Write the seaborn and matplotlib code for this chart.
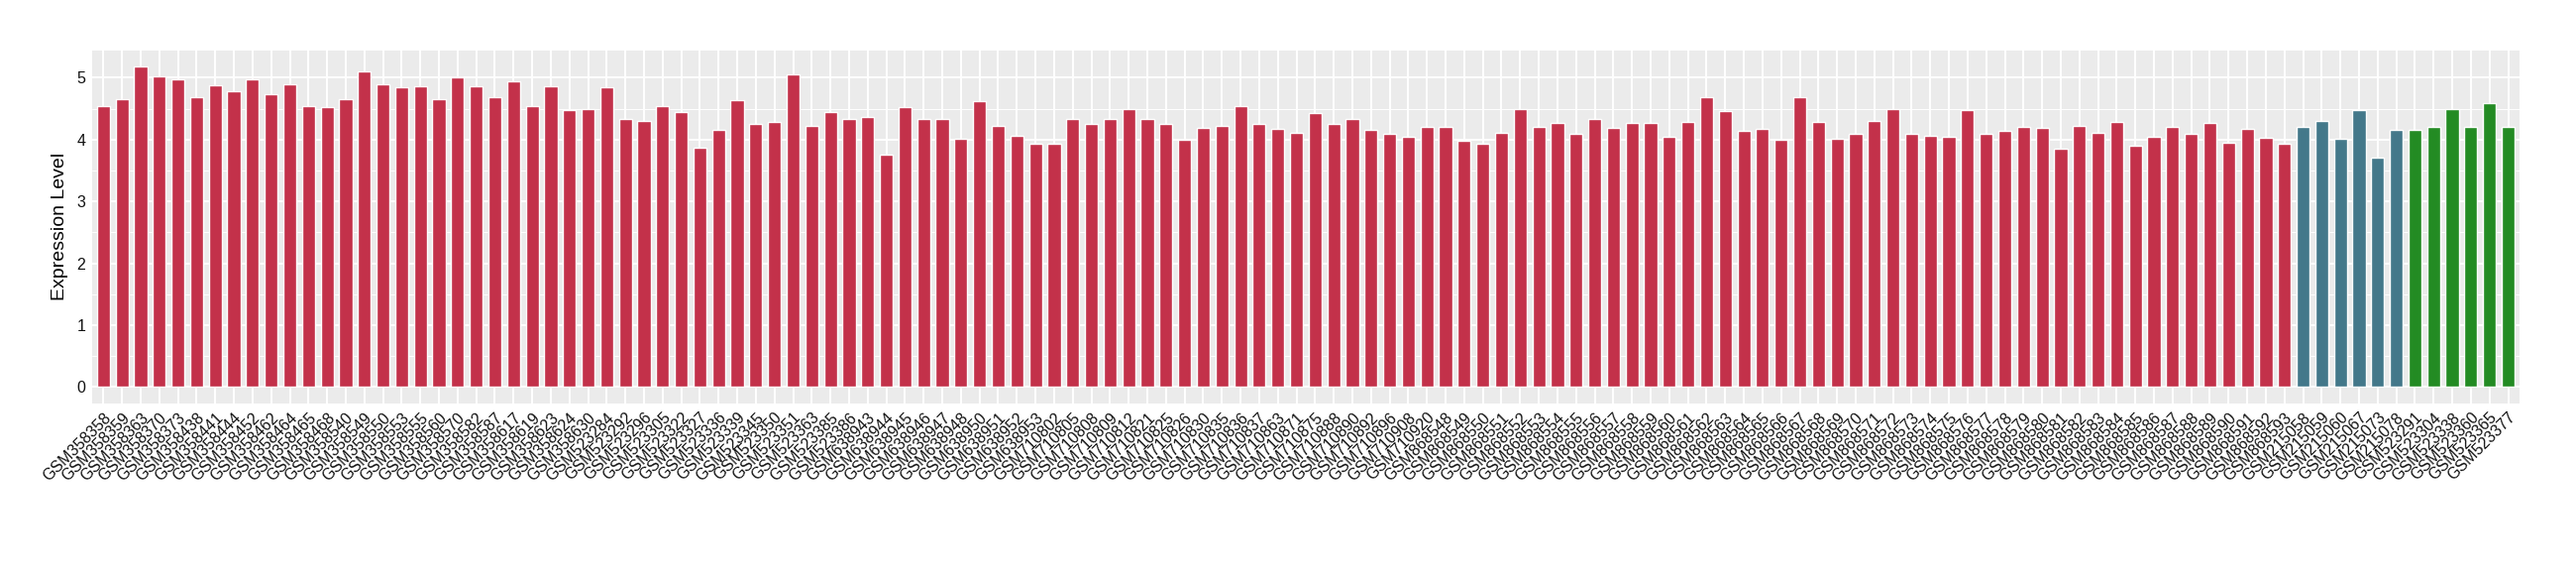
import pandas as pd
import matplotlib
matplotlib.use("Agg")
import matplotlib.pyplot as plt
import seaborn as sns
from matplotlib.ticker import MultipleLocator

# Samples and expression values
red_samples = [
    "GSM358358", "GSM358359", "GSM358363", "GSM358370", "GSM358373", "GSM358438",
    "GSM358441", "GSM358444", "GSM358452", "GSM358462", "GSM358464", "GSM358465",
    "GSM358468", "GSM358540", "GSM358549", "GSM358550", "GSM358553", "GSM358555",
    "GSM358560", "GSM358570", "GSM358582", "GSM358587", "GSM358617", "GSM358619",
    "GSM358623", "GSM358624", "GSM358630", "GSM523284", "GSM523292", "GSM523296",
    "GSM523305", "GSM523322", "GSM523327", "GSM523336", "GSM523339", "GSM523345",
    "GSM523350", "GSM523351", "GSM523363", "GSM523385", "GSM523386", "GSM638943",
    "GSM638944", "GSM638945", "GSM638946", "GSM638947", "GSM638948", "GSM638950",
    "GSM638951", "GSM638952", "GSM638953", "GSM710802", "GSM710805", "GSM710808",
    "GSM710809", "GSM710812", "GSM710821", "GSM710825", "GSM710826", "GSM710830",
    "GSM710835", "GSM710836", "GSM710837", "GSM710863", "GSM710871", "GSM710875",
    "GSM710888", "GSM710890", "GSM710892", "GSM710896", "GSM710908", "GSM710920",
    "GSM868548", "GSM868549", "GSM868550", "GSM868551", "GSM868552", "GSM868553",
    "GSM868554", "GSM868555", "GSM868556", "GSM868557", "GSM868558", "GSM868559",
    "GSM868560", "GSM868561", "GSM868562", "GSM868563", "GSM868564", "GSM868565",
    "GSM868566", "GSM868567", "GSM868568", "GSM868569", "GSM868570", "GSM868571",
    "GSM868572", "GSM868573", "GSM868574", "GSM868575", "GSM868576", "GSM868577",
    "GSM868578", "GSM868579", "GSM868580", "GSM868581", "GSM868582", "GSM868583",
    "GSM868584", "GSM868585", "GSM868586", "GSM868587", "GSM868588", "GSM868589",
    "GSM868590", "GSM868591", "GSM868592", "GSM868593",
]
red_values = [
    4.55, 4.65, 5.18, 5.03, 4.97, 4.68, 4.88, 4.79, 4.98, 4.73, 4.89, 4.55,
    4.52, 4.66, 5.11, 4.89, 4.85, 4.87, 4.65, 5.00, 4.87, 4.68, 4.95, 4.55,
    4.87, 4.48, 4.50, 4.85, 4.34, 4.30, 4.55, 4.44, 3.87, 4.16, 4.64, 4.26,
    4.29, 5.05, 4.23, 4.44, 4.34, 4.36, 3.75, 4.52, 4.33, 4.34, 4.01, 4.62,
    4.23, 4.07, 3.94, 3.93, 4.34, 4.25, 4.34, 4.50, 4.33, 4.25, 4.00, 4.19,
    4.23, 4.54, 4.25, 4.17, 4.11, 4.43, 4.26, 4.33, 4.16, 4.10, 4.05, 4.20,
    4.20, 3.98, 3.93, 4.11, 4.50, 4.20, 4.27, 4.10, 4.34, 4.19, 4.27, 4.27,
    4.05, 4.29, 4.69, 4.46, 4.14, 4.17, 4.00, 4.68, 4.29, 4.01, 4.10, 4.30,
    4.49, 4.09, 4.07, 4.04, 4.48, 4.10, 4.14, 4.20, 4.19, 3.86, 4.23, 4.11,
    4.29, 3.90, 4.05, 4.21, 4.10, 4.27, 3.95, 4.17, 4.03, 3.93,
]

blue_samples = ["GSM215058", "GSM215059", "GSM215060", "GSM215067", "GSM215073", "GSM215078"]
blue_values = [4.21, 4.30, 4.01, 4.48, 3.71, 4.16]

green_samples = ["GSM523291", "GSM523304", "GSM523338", "GSM523360", "GSM523365", "GSM523377"]
green_values = [4.16, 4.20, 4.49, 4.21, 4.59, 4.20]

group_colors = {"red": "#C3314A", "blue": "#43788A", "green": "#238B23"}

df = pd.DataFrame({
    "sample": red_samples + blue_samples + green_samples,
    "value": red_values + blue_values + green_values,
    "group": ["red"] * len(red_samples) + ["blue"] * len(blue_samples)
             + ["green"] * len(green_samples),
})

sns.set_theme(style="darkgrid", rc={
    "axes.facecolor": "#EBEBEB",
    "grid.color": "white",
    "axes.edgecolor": "#EBEBEB",
})
plt.rcParams["font.family"] = ["Liberation Sans", "DejaVu Sans"]

fig = plt.figure(figsize=(26, 5.8), dpi=100)
ax = fig.add_axes([0.0358, 0.299, 0.978 - 0.0358, 0.912 - 0.299])

sns.barplot(
    data=df,
    x="sample",
    y="value",
    hue="group",
    palette=group_colors,
    dodge=False,
    width=0.7,
    saturation=1,
    legend=False,
    ax=ax,
)

ax.set_xlim(-0.6, len(df) - 0.4)
ax.set_ylim(-0.259, 5.44)
ax.yaxis.set_major_locator(MultipleLocator(1))
ax.yaxis.set_minor_locator(MultipleLocator(0.5))
ax.grid(which="major", color="white", linewidth=1.4)
ax.grid(which="minor", axis="y", color="white", linewidth=0.7)
ax.set_axisbelow(True)
for s in ax.spines.values():
    s.set_visible(False)

ax.tick_params(axis="both", which="major", length=3, width=0.8,
               color="#333333", labelsize=11.5, labelcolor="#111111", pad=2)
ax.tick_params(axis="y", which="minor", length=0)
plt.setp(ax.get_xticklabels(), rotation=45, ha="right", rotation_mode="anchor")

ax.set_xlabel("")
ax.set_ylabel("Expression Level", fontsize=14, color="black", labelpad=6)

fig.savefig("out.png", dpi=100)
